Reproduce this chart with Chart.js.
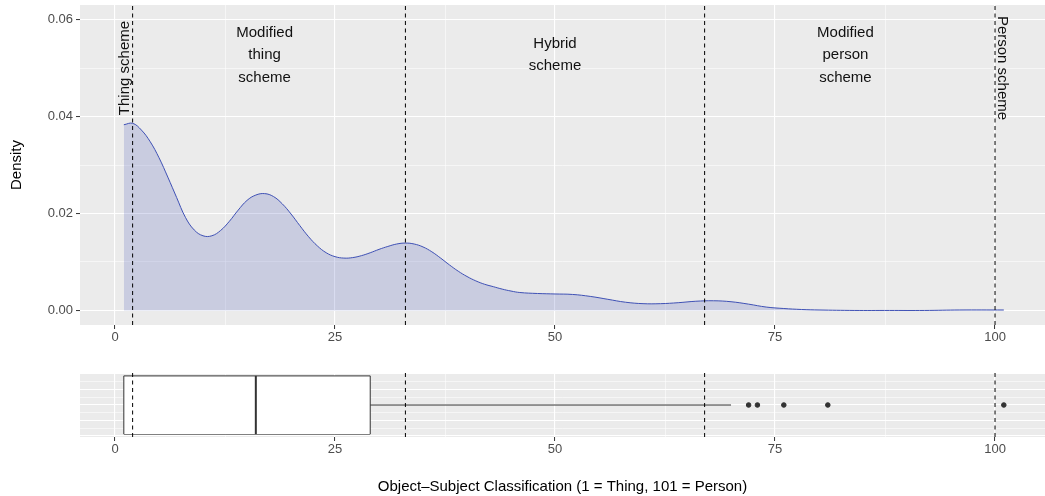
<!DOCTYPE html>
<html>
<head>
<meta charset="utf-8">
<script src="https://cdn.jsdelivr.net/npm/chart.js@4.4.1/dist/chart.umd.min.js"></script>
<style>
  html, body { margin: 0; padding: 0; background: #fff; }
  #densityChart { position: absolute; left: 0; top: 0; }
  #boxChart { position: absolute; left: 0; top: 345px; }
</style>
</head>
<body>
<canvas id="densityChart" width="1045" height="345"></canvas>
<canvas id="boxChart" width="1045" height="151"></canvas>
<script>
// density estimate
const densityX = [1, 2, 3, 4, 5, 6, 7, 8, 9, 10, 11, 12, 13, 14, 15, 16, 17, 18, 19, 20,
  21, 22, 23, 24, 25, 26, 27, 28, 29, 30, 31, 32, 33, 34, 35, 36, 37, 38, 39, 40,
  41, 42, 43, 44, 45, 46, 48, 50, 52, 54, 56, 58, 60, 62, 64, 66, 68, 70, 72, 74,
  76, 78, 80, 84, 88, 92, 96, 101];
const densityY = [0.0383, 0.0386, 0.0372, 0.0348, 0.0315, 0.0275, 0.0233, 0.0192, 0.0166, 0.0154,
  0.0154, 0.0165, 0.0184, 0.0207, 0.0227, 0.0238, 0.0241, 0.0235, 0.022, 0.0199,
  0.0175, 0.0152, 0.0133, 0.0119, 0.0111, 0.0108, 0.0109, 0.0113, 0.0119, 0.0126,
  0.0132, 0.0137, 0.0139, 0.0137, 0.0131, 0.0121, 0.0108, 0.0094, 0.0081, 0.007,
  0.0061, 0.0054, 0.0049, 0.0044, 0.004, 0.0037, 0.0035, 0.0034, 0.0033, 0.0029,
  0.0023, 0.0017, 0.0014, 0.0014, 0.0016, 0.0019, 0.002, 0.0018, 0.0013, 0.0007,
  0.0004, 0.0002, 0.0001, 0, 0, 0, 0.0001, 0.0001];

// boxplot
const boxLower = 1;
const boxQ1 = 1;
const boxMedian = 16;
const boxQ3 = 29;
const boxUpper = 70;
const outliers = [72, 73, 76, 81, 101];

// scheme boundaries and labels
const schemeCuts = [2, 33, 67, 100];
const rangeLabels = [["Modified", "thing", "scheme"], ["Hybrid", "scheme"], ["Modified", "person", "scheme"]];
const rangeLabelX = [17, 50, 83];
const rangeLabelY = 0.0527;
const edgeLabels = ["Thing scheme", "Person scheme"];
const edgeLabelX = [2, 100];
const edgeLabelY = 0.05;

const xTicks = [0, 25, 50, 75, 100];
const densityTicks = [0, 0.02, 0.04, 0.06];
const boxYTicks = [-0.4, -0.2, 0, 0.2, 0.4];

const FONT = "'Liberation Sans', Arial, Helvetica, sans-serif";
const xMin = -3.98, xMax = 105.68;
const yMin = -0.003, yMax = 0.063;
const boxHalf = 0.375, boxYMin = -0.4125, boxYMax = 0.4125;

// majors plus midpoints for the minor grid
const withMinor = (arr) => {
  const out = [];
  arr.forEach((v, i) => {
    out.push(v);
    if (i < arr.length - 1) out.push((v + arr[i + 1]) / 2);
  });
  return out;
};
const isMajor = (arr, v) => arr.some((m) => Math.abs(m - v) < 1e-9);

const panelBg = {
  id: "panelBg",
  beforeDraw(chart) {
    const { ctx, chartArea: a } = chart;
    ctx.save();
    ctx.fillStyle = "#ebebeb";
    ctx.fillRect(a.left, a.top, a.right - a.left, a.bottom - a.top);
    ctx.restore();
  },
};

const gridOpts = (majors, ticks) => ({
  color: "#ffffff",
  lineWidth: (c) => (c.tick && isMajor(majors, c.tick.value) ? 1.1 : 0.55),
  drawTicks: ticks,
  tickLength: 4,
  tickWidth: 1,
  tickColor: (c) => (c.tick && isMajor(majors, c.tick.value) ? "#333333" : "rgba(0,0,0,0)"),
});

const xScale = (height, title) => ({
  type: "linear",
  min: xMin,
  max: xMax,
  afterBuildTicks: (s) => { s.ticks = withMinor(xTicks).map((v) => ({ value: v })); },
  afterFit: (s) => {
    s.height = height;
    s.paddingLeft = 0;
    s.paddingRight = 0;
  },
  ticks: {
    autoSkip: false,
    maxRotation: 0,
    color: "#4d4d4d",
    padding: 1,
    font: { family: FONT, size: 13 },
    callback: (v) => (isMajor(xTicks, v) ? String(v) : ""),
  },
  grid: gridOpts(xTicks, true),
  border: { display: false },
  title: title
    ? { display: true, text: title, color: "#000", font: { family: FONT, size: 15 }, padding: { top: 0, bottom: 0 } }
    : { display: false },
});

const vline = (x, lo, hi) => ({
  type: "line",
  data: [{ x: x, y: lo }, { x: x, y: hi }],
  borderColor: "#000",
  borderWidth: 1,
  borderDash: [4, 3.5],
  pointRadius: 0,
  fill: false,
});

const schemeLabels = {
  id: "schemeLabels",
  afterDatasetsDraw(chart) {
    const { ctx, scales: { x, y } } = chart;
    ctx.save();
    ctx.fillStyle = "#111";
    ctx.font = `15px ${FONT}`;
    ctx.textAlign = "center";
    ctx.textBaseline = "middle";
    const lineH = 22.5;
    rangeLabels.forEach((lines, i) => {
      const px = x.getPixelForValue(rangeLabelX[i]);
      const cy = y.getPixelForValue(rangeLabelY);
      lines.forEach((t, j) => {
        ctx.fillText(t, px, cy + (j - (lines.length - 1) / 2) * lineH);
      });
    });
    edgeLabels.forEach((t, i) => {
      const left = i === 0;
      const px = x.getPixelForValue(edgeLabelX[i]) + (left ? -8 : 7.5);
      const py = y.getPixelForValue(edgeLabelY);
      ctx.save();
      ctx.translate(px, py);
      ctx.rotate(left ? -Math.PI / 2 : Math.PI / 2);
      ctx.fillText(t, 0, 0);
      ctx.restore();
    });
    ctx.restore();
  },
};

const densityConfig = {
  type: "line",
  data: {
    datasets: [
      ...schemeCuts.map((c) => vline(c, yMin, yMax)),
      {
        label: "Density",
        data: densityX.map((v, i) => ({ x: v, y: densityY[i] })),
        borderColor: "#3f51b5",
        borderWidth: 1,
        backgroundColor: "rgba(63, 81, 181, 0.2)",
        fill: "origin",
        tension: 0.4,
        pointRadius: 0,
      },
    ],
  },
  options: {
    responsive: false,
    animation: false,
    events: [],
    layout: { autoPadding: false, padding: { top: 5, left: 0, right: 0, bottom: 0 } },
    plugins: { legend: { display: false }, tooltip: { enabled: false } },
    scales: {
      x: xScale(20, null),
      y: {
        type: "linear",
        min: yMin,
        max: yMax,
        afterBuildTicks: (s) => { s.ticks = withMinor(densityTicks).map((v) => ({ value: v })); },
        afterFit: (s) => {
          s.width = 80;
          s.paddingTop = 0;
          s.paddingBottom = 0;
        },
        ticks: {
          autoSkip: false,
          color: "#4d4d4d",
          padding: 3,
          font: { family: FONT, size: 13 },
          callback: (v) => (isMajor(densityTicks, v) ? v.toFixed(2) : ""),
        },
        grid: gridOpts(densityTicks, true),
        border: { display: false },
        title: { display: true, text: "Density", color: "#000", font: { family: FONT, size: 15 }, padding: { top: 8, bottom: 0 } },
      },
    },
  },
  plugins: [panelBg, schemeLabels],
};

const boxLine = (pts, width) => ({
  type: "line",
  data: pts,
  borderColor: "#333333",
  borderWidth: width,
  pointRadius: 0,
  fill: false,
});

const boxConfig = {
  type: "line",
  data: {
    datasets: [
      ...schemeCuts.map((c) => vline(c, boxYMin, boxYMax)),
      boxLine([{ x: boxMedian, y: -boxHalf }, { x: boxMedian, y: boxHalf }], 2),
      boxLine([{ x: boxQ1, y: -boxHalf }, { x: boxQ1, y: boxHalf }], 1),
      boxLine([{ x: boxQ3, y: -boxHalf }, { x: boxQ3, y: boxHalf }], 1),
      { ...boxLine([{ x: boxQ1, y: boxHalf }, { x: boxQ3, y: boxHalf }], 1), fill: "+1", backgroundColor: "#ffffff" },
      boxLine([{ x: boxQ1, y: -boxHalf }, { x: boxQ3, y: -boxHalf }], 1),
      boxLine([{ x: boxQ3, y: 0 }, { x: boxUpper, y: 0 }], 1),
      boxLine([{ x: boxLower, y: 0 }, { x: boxQ1, y: 0 }], 1),
      {
        type: "scatter",
        data: outliers.map((v) => ({ x: v, y: 0 })),
        backgroundColor: "#333333",
        borderColor: "#333333",
        pointRadius: 2.3,
        showLine: false,
      },
    ],
  },
  options: {
    responsive: false,
    animation: false,
    events: [],
    layout: { autoPadding: false, padding: { top: 28, left: 0, right: 0, bottom: 0 } },
    plugins: { legend: { display: false }, tooltip: { enabled: false } },
    scales: {
      x: xScale(59, "Object\u2013Subject Classification (1 = Thing, 101 = Person)"),
      y: {
        type: "linear",
        min: boxYMin,
        max: boxYMax,
        afterBuildTicks: (s) => { s.ticks = withMinor(boxYTicks).map((v) => ({ value: v })); },
        afterFit: (s) => {
          s.width = 80;
          s.paddingTop = 0;
          s.paddingBottom = 0;
        },
        ticks: { display: false },
        grid: gridOpts(boxYTicks, false),
        border: { display: false },
      },
    },
  },
  plugins: [panelBg],
};

new Chart(document.getElementById("densityChart"), densityConfig);
new Chart(document.getElementById("boxChart"), boxConfig);
</script>
</body>
</html>
